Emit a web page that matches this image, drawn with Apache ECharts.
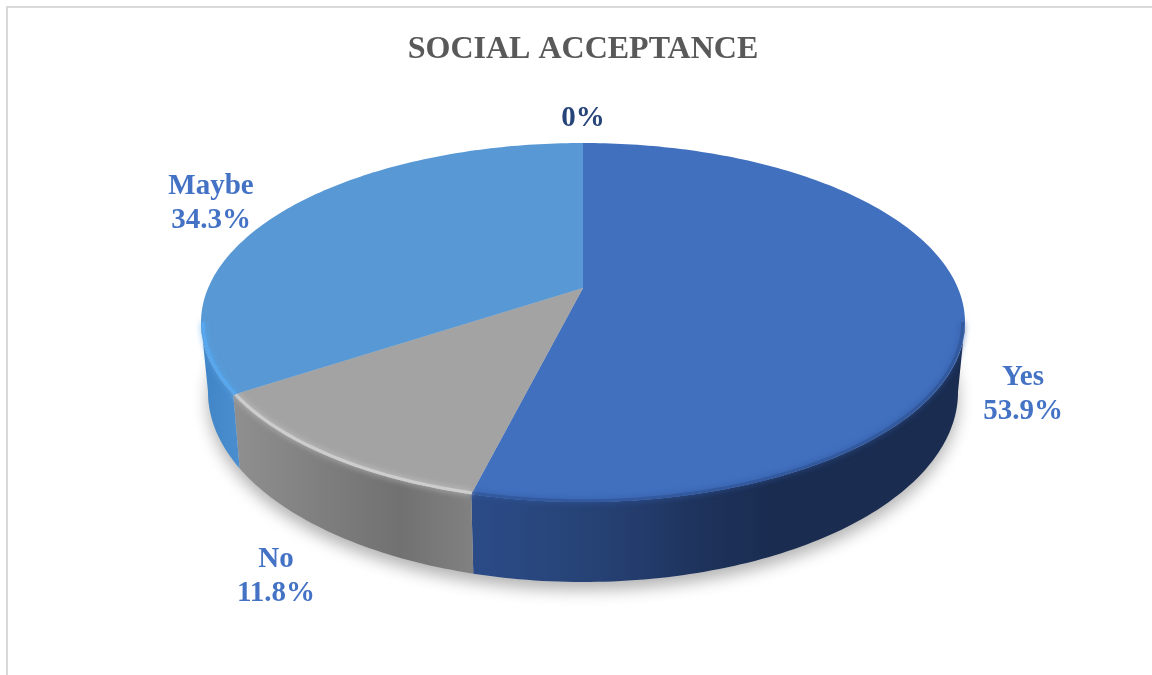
<!DOCTYPE html>
<html>
<head>
<meta charset="utf-8">
<style>html,body{margin:0;padding:0;background:#fff}#c{width:1152px;height:675px}</style>
<script src="https://cdn.jsdelivr.net/npm/echarts@6/dist/echarts.min.js"></script>
</head>
<body>
<div id="c"></div>
<script>
var chartTitle = 'SOCIAL ACCEPTANCE';
var categories = ['Yes', 'No', 'Maybe', ''];
var shares = [53.9, 11.8, 34.3, 0];

// Look of the tilted disc
var CX = 583, TILT = 0.192;
var TOP = {t: 143, b: 502, rx: 382};
var BOTTOM = {t: 202, b: 582, rx: 375};
var FRONT = [101, 259];
var faceColors = ['#4170bf', '#a3a3a3', '#5898d4', '#264478'];
var labelColors = ['#4472c4', '#4472c4', '#4472c4', '#264478'];
var bevelColors = ['#33599f', '#cdcdcd', '#57a8ee', '#264478'];
var wallStops = [
  [[473, '#2b4b88'], [560, '#28457a'], [640, '#233c6c'], [700, '#1e335c'], [770, '#1a2c50'], [965, '#1a2c50']],
  [[235, '#8f8f8f'], [330, '#7d7d7d'], [400, '#717171'], [473, '#818181']],
  [[200, '#3f84c6'], [242, '#4c8fd0']],
  [[0, '#264478'], [1, '#264478']]
];
var labelPlaces = [[1023, 395], [276, 577], [211, 204], [583, 119]];

function project(ring, deg) {
  var r = deg * Math.PI / 180, s = Math.sin(r), u = Math.cos(r);
  var a = (ring.t * (1 + TILT) + ring.b * (1 - TILT)) / 2;
  var b = (ring.t * (1 + TILT) - ring.b * (1 - TILT)) / 2;
  var k = ring.rx * Math.sqrt(1 - TILT * TILT);
  var d = 1 + TILT * u;
  return [CX + k * s / d, (a + b * u) / d];
}
function apex(ring) {
  return [CX, (ring.t * (1 + TILT) + ring.b * (1 - TILT)) / 2];
}
function arc(ring, from, to) {
  var pts = [], n = Math.max(1, Math.ceil(Math.abs(to - from)));
  for (var i = 0; i <= n; i++) pts.push(project(ring, from + (to - from) * i / n));
  return pts;
}
function sliceRange(i) {
  var total = shares.reduce(function (p, c) { return p + c; }, 0);
  var before = 0;
  for (var j = 0; j < i; j++) before += shares[j];
  return [before / total * 360, (before + shares[i]) / total * 360];
}
function frontPart(r) {
  return [Math.max(r[0], FRONT[0]), Math.min(r[1], FRONT[1])];
}
function wallGradient(i) {
  var st = wallStops[i], a = st[0][0], z = st[st.length - 1][0];
  return {
    type: 'linear', global: true, x: a, y: 0, x2: z, y2: 0,
    colorStops: st.map(function (s) { return {offset: (s[0] - a) / (z - a), color: s[1]}; })
  };
}
var rows = categories.map(function (c, i) { return [i, shares[i]]; });

function renderGround(params, api) {
  if (params.dataIndex !== 0) return null;
  return {
    type: 'polygon',
    shape: {points: arc(BOTTOM, 0, 360)},
    style: {fill: '#cfcfcf', shadowBlur: 16, shadowColor: 'rgba(0,0,0,0.30)', shadowOffsetY: 8}
  };
}
function renderWall(params, api) {
  var i = api.value(0);
  if (api.value(1) <= 0) return null;
  var f = frontPart(sliceRange(i));
  if (f[1] <= f[0]) return null;
  var pts = arc(TOP, f[0], f[1]).concat(arc(BOTTOM, f[1], f[0]));
  return {type: 'polygon', shape: {points: pts}, style: {fill: wallGradient(i)}};
}
function renderFace(params, api) {
  var i = api.value(0);
  var r = sliceRange(i);
  var kids = [];
  if (api.value(1) > 0) {
    kids.push({
      type: 'polygon',
      shape: {points: [apex(TOP)].concat(arc(TOP, r[0], r[1]))},
      style: {fill: faceColors[i]}
    });
    var f = frontPart(r);
    if (f[1] > f[0]) {
      var c = apex(TOP);
      kids.push({
        type: 'polyline',
        shape: {points: arc(TOP, f[0], f[1]).map(function (p) {
          return [p[0] + (c[0] - p[0]) * 0.006, p[1] + (c[1] - p[1]) * 0.006];
        })},
        style: {fill: null, stroke: bevelColors[i], lineWidth: 3, shadowBlur: 6, shadowColor: bevelColors[i]}
      });
    }
  }
  var place = labelPlaces[i];
  var pct = api.value(1) > 0 ? api.value(1).toFixed(1) + '%' : '0%';
  kids.push({
    type: 'text',
    style: {
      text: categories[i] ? categories[i] + '\n' + pct : pct,
      x: place[0], y: place[1], align: 'center', verticalAlign: 'middle',
      font: 'bold 29px "Liberation Serif", serif', lineHeight: 34, fill: labelColors[i]
    }
  });
  return {type: 'group', children: kids};
}

var chart = echarts.init(document.getElementById('c'), null, {renderer: 'canvas'});
chart.setOption({
  animation: false,
  backgroundColor: '#ffffff',
  title: {
    text: chartTitle, left: 578, top: 29, textAlign: 'center',
    textStyle: {color: '#595959', fontFamily: '"Liberation Serif", serif', fontWeight: 'bold', fontSize: 32}
  },
  graphic: [{
    type: 'polyline', silent: true,
    shape: {points: [[7, 675], [7, 7], [1152, 7]]},
    style: {fill: null, stroke: '#d9d9d9', lineWidth: 2}
  }],
  series: [
    {type: 'custom', coordinateSystem: 'none', silent: true, z: 1, data: rows, renderItem: renderGround},
    {type: 'custom', coordinateSystem: 'none', silent: true, z: 2, data: rows, renderItem: renderWall},
    {type: 'custom', coordinateSystem: 'none', silent: true, z: 3, data: rows, renderItem: renderFace}
  ]
});
</script>
</body>
</html>
